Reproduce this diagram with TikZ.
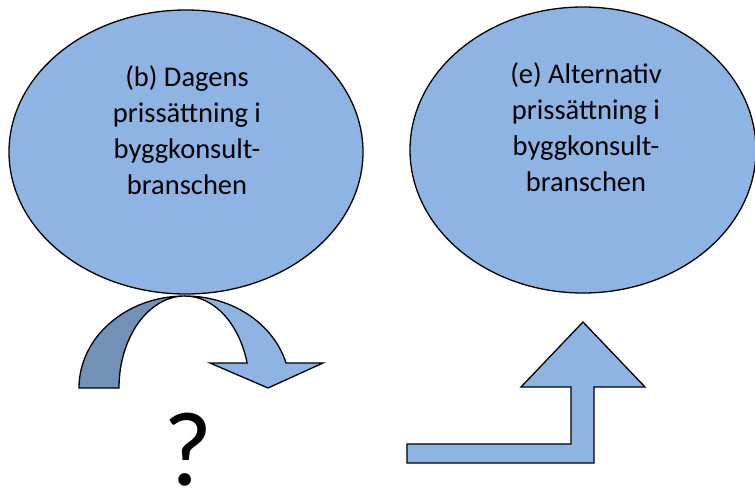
\documentclass[tikz,border=0pt]{standalone}
\usepackage{fontspec}
\setmainfont{Carlito}
\usepackage{tikz}
\usetikzlibrary{shapes.geometric, arrows}
\usetikzlibrary{positioning}
\definecolor{ovalblue}{HTML}{8EB4E3}
\definecolor{backblue}{HTML}{7291B7}
\tikzstyle{oval} = [ellipse, draw=black, line width=1.3pt, fill=ovalblue, inner sep=0pt]
\tikzstyle{ovaltext} = [align=center, inner sep=0pt, font=\fontsize{28.5}{36}\selectfont]
\tikzstyle{bigarrow} = [draw=black, line width=1.3pt, fill=ovalblue, line join=miter]

\begin{document}
\begin{tikzpicture}[x=1pt, y=-1pt]
\useasboundingbox (0,0) rectangle (755,490);
\node [oval, minimum width=354pt, minimum height=284pt] (dagens) at (186,152) {};
\node [oval, minimum width=346pt, minimum height=286pt] (alternativ) at (583,150) {};
\node [ovaltext] (dagenstext) at (187,130) {(b) Dagens\\prissättning i\\byggkonsult-\\branschen};
\node [ovaltext] (alttext) at (586,127) {(e) Alternativ\\prissättning i\\byggkonsult-\\branschen};
% curved arrow under (b)
\draw [bigarrow, fill=backblue] (79,388) arc [start angle=180, end angle=270, x radius=106, y radius=92]
  arc [start angle=270, end angle=180, x radius=66, y radius=92] -- cycle;
\draw [bigarrow] (185,296) arc [start angle=270, end angle=344.2, x radius=105, y radius=92]
  -- (323,363) -- (268,388) -- (210,363) -- (247.1,363)
  arc [start angle=344.2, end angle=270, x radius=64.5, y radius=92] -- cycle;
% bent arrow under (e)
\draw [bigarrow] (407,444) -- (571,444) -- (571,387) -- (521,387) -- (583,322) -- (645,387)
  -- (594,387) -- (594,463) -- (407,463) -- cycle;
\node [font=\fontsize{106}{110}\selectfont, inner sep=0pt, anchor=base] (fraga) at (188,485) {?};
\end{tikzpicture}
\end{document}
